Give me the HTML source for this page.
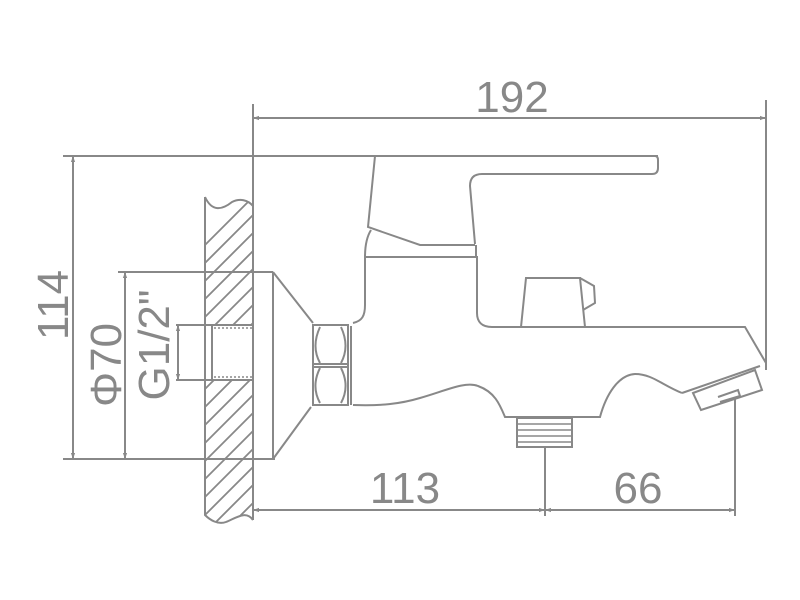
<!DOCTYPE html>
<html><head><style>html,body{margin:0;padding:0;background:#fff;width:800px;height:600px;overflow:hidden;position:relative}svg{position:absolute;left:0;top:0;display:block;overflow:hidden}</style></head><body>
<svg width="800" height="600" viewBox="0 0 800 600" xmlns="http://www.w3.org/2000/svg">
<defs>
<clipPath id="w"><path d="M205,197 C212,212 222,210 232,202 C240,198 248,200 253,206 L253,520 C246,510 236,518 226,522 C218,525 210,520 205,515 Z"/></clipPath>
<marker id="a" viewBox="0 0 10 10" refX="10" refY="5" markerWidth="10" markerHeight="6" orient="auto-start-reverse" markerUnits="userSpaceOnUse"><path d="M0,1.5 L10,5 L0,8.5 Z" fill="#888"/></marker>
</defs>
<g stroke="#888" stroke-width="2" fill="none">
<g clip-path="url(#w)" stroke-width="1.8">
<path d="M180,270 L300,150 M180,288 L300,168 M180,306 L300,186 M180,324 L300,204 M180,342 L300,222 M180,360 L300,240 M180,378 L300,258 M180,396 L300,276 M180,414 L300,294 M180,432 L300,312 M180,450 L300,330 M180,468 L300,348 M180,486 L300,366 M180,504 L300,384 M180,522 L300,402 M180,540 L300,420 M180,558 L300,438 M180,576 L300,456 M180,594 L300,474"/>
</g>
<rect x="206" y="324" width="47" height="57" fill="#fff" stroke="none"/>
<path d="M205,197 C212,212 222,210 232,202 C240,198 248,200 253,206"/>
<path d="M205,197 L205,515 C210,520 218,525 226,522 C236,518 246,510 253,520"/>
<path d="M205,325 L253,325 M205,380 L253,380 M212,325 L212,380"/>
<path d="M214,328 L253,328 M214,377 L253,377" stroke-dasharray="2,2" stroke-width="1.5"/>
<path d="M253,104 L253,520"/>
<path d="M766,100 L766,370"/>
<path d="M63,156 L658,156"/>
<path d="M63,459 L275,459"/>
<path d="M118,272 L273,272"/>
<path d="M176,325 L206,325 M176,380 L206,380"/>
<path d="M545,447 L545,516"/>
<path d="M735,397 L735,516"/>
<path d="M253,118 L766,118" marker-start="url(#a)" marker-end="url(#a)"/>
<path d="M73,156 L73,459" marker-start="url(#a)" marker-end="url(#a)"/>
<path d="M125,272 L125,459" marker-start="url(#a)" marker-end="url(#a)"/>
<path d="M178,325 L178,380" marker-start="url(#a)" marker-end="url(#a)"/>
<path d="M253,510 L545,510" marker-start="url(#a)" marker-end="url(#a)"/>
<path d="M545,510 L735,510" marker-start="url(#a)" marker-end="url(#a)"/>
<path d="M273,272 L273,459 M273,272 L313,323 M273,459 L311,407"/>
<path d="M313,325 L348,325 L348,405 L313,405 Z"/>
<path d="M313,364 L348,364 M313,367 L348,367"/>
<path d="M320,327 C314,340 314,352 320,363 M341,327 C347,340 347,352 341,363 M320,368 C314,380 314,392 320,403 M341,368 C347,380 347,392 341,403"/>
<path d="M351,326 L351,405"/>
<path d="M353,323 C362,321 365,316 365,305 L365,257 L477,257 L477,313 C477,322 482,327 492,327 L745,327 L766,363"/>
<path d="M353,405 C380,406 400,404 420,398 C445,391 465,381 478,386 C495,392 500,405 505,417 L600,417 C606,395 618,375 635,374 C652,374 662,385 682,393"/>
<path d="M682,393 L760,366"/>
<path d="M693,393 L755,370 L762,390 L701,410 Z"/>
<path d="M718,397 L738,390 L740,396 L720,402"/>
<path d="M517,418 L572,418 L572,447 L517,447 Z"/>
<path d="M517,424 L572,424 M517,430 L572,430 M517,436 L572,436 M517,442 L572,442" stroke-width="1.5"/>
<path d="M375,156 L368,227 L420,245 L475,245"/>
<path d="M371,230 C366,238 365,248 365,257"/>
<path d="M476,245 L476,257"/>
<path d="M655,156 Q658,156 658,160 L658,168 Q658,174 652,174 L482,174 Q470,174 470,186 L475,244"/>
<path d="M521,327 L526,278 L580,278 L585,327"/>
<path d="M580,278 L594,286 L595,303 L583,310"/>
</g>
<g fill="#888" font-family="Liberation Sans, sans-serif" font-size="44">
<text x="512" y="112" text-anchor="middle">192</text>
<text x="405" y="503" text-anchor="middle">113</text>
<text x="638" y="503" text-anchor="middle">66</text>
<text transform="translate(68,305) rotate(-90)" text-anchor="middle">114</text>
<text transform="translate(121,365) rotate(-90)" text-anchor="middle">Φ70</text>
<text transform="translate(169,345) rotate(-90)" text-anchor="middle">G1/2"</text>
</g>
</svg>
</body></html>
